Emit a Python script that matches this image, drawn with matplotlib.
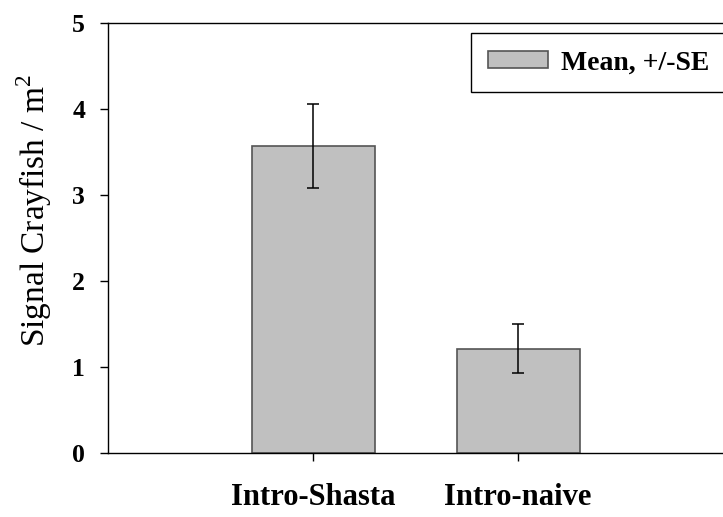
import matplotlib

matplotlib.use("Agg")
import matplotlib.pyplot as plt
from matplotlib.patches import Patch

plt.rcParams["font.family"] = ["Liberation Serif", "DejaVu Serif"]
plt.rcParams["mathtext.fontset"] = "custom"
plt.rcParams["mathtext.rm"] = "Liberation Serif"

# data
groups = ["Intro-Shasta", "Intro-naive"]
means = [3.57, 1.21]
se = [0.485, 0.285]

BAR_FACE = "#c0c0c0"
BAR_EDGE = "#555555"

fig = plt.figure(figsize=(7.23, 5.17), dpi=100)
fig.patch.set_facecolor("white")
ax = fig.add_axes([108 / 723, 64 / 517, 615 / 723, 430 / 517])

xpos = list(range(1, len(groups) + 1))
ax.bar(xpos, means, width=0.6, color=BAR_FACE, edgecolor=BAR_EDGE, linewidth=1.2, zorder=2)
ax.errorbar(xpos, means, yerr=se, fmt="none", ecolor="black", elinewidth=1.1,
            capsize=4.3, capthick=1.1, zorder=3)

ax.set_xlim(0, 3)
ax.set_ylim(0, 5)
ax.set_xticks(xpos)
ax.set_xticklabels(groups, fontsize=22, fontweight="bold")
ax.set_yticks([0, 1, 2, 3, 4, 5])
ax.set_yticklabels([str(v) for v in range(6)], fontsize=18.5, fontweight="bold")
ax.tick_params(axis="y", direction="out", length=5.5, width=1, pad=11)
ax.tick_params(axis="x", direction="out", length=5.5, width=1, pad=16)
ax.spines["right"].set_visible(False)
for s in ("left", "top", "bottom"):
    ax.spines[s].set_linewidth(1)

ax.set_ylabel("Signal Crayfish / m$^2$", fontsize=24)
ax.yaxis.set_label_coords(-0.12, 0.565)
ax.yaxis.label.set_va("center")

handle = Patch(facecolor=BAR_FACE, edgecolor=BAR_EDGE, linewidth=1.2, label="Mean, +/-SE")
leg = fig.legend(handles=[handle], loc="upper left", bbox_to_anchor=(471 / 723, 1 - 33 / 517),
                 fancybox=False, framealpha=1, edgecolor="black", handlelength=2.15,
                 handleheight=0.6, handletextpad=0.48, borderaxespad=0, borderpad=0.62,
                 prop={"size": 20, "weight": "bold"})
leg.get_frame().set_linewidth(1)

fig.savefig("out.png", dpi=100, facecolor="white")
